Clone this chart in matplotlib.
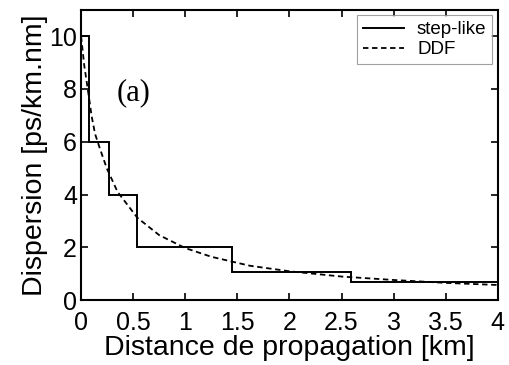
import matplotlib
matplotlib.use("Agg")
import matplotlib.pyplot as plt

# step-like dispersion profile (edges in km, values in ps/km.nm)
step_edges = [0, 0.08, 0.265, 0.54, 1.445, 2.59, 4.0]
step_values = [10, 6, 4, 2, 1.08, 0.68]

# DDF curve, points
ddf_x = [0, 0.03, 0.064, 0.1, 0.134, 0.18, 0.246, 0.35, 0.54, 0.75, 1.0, 1.25,
         1.62, 2.0, 2.5, 3.0, 3.5, 4.0]
ddf_y = [10, 8.9, 8.0, 7.0, 6.3, 5.75, 5.0, 4.1, 3.12, 2.46, 1.97, 1.64,
         1.30, 1.09, 0.89, 0.76, 0.65, 0.57]

xticks = [0, 0.5, 1, 1.5, 2, 2.5, 3, 3.5, 4]
xticklabels = ["0", "0.5", "1", "1.5", "2", "2.5", "3", "3.5", "4"]
yticks = [0, 2, 4, 6, 8, 10]

plt.rcParams['font.family'] = ['Liberation Sans', 'DejaVu Sans']

fig = plt.figure(figsize=(5.1, 3.65), dpi=100)
ax = fig.add_axes([0.159, 0.178, 0.817, 0.795])

ax.stairs(step_values, step_edges, color="black", lw=1.4, label="step-like", baseline=None)
ax.plot(ddf_x, ddf_y, color="black", lw=1.3, ls=(0, (3, 2)), label="DDF")

ax.set_xlim(0, 4)
ax.set_ylim(0, 11)
ax.set_xticks(xticks)
ax.set_xticklabels(xticklabels)
ax.set_yticks(yticks)
ax.tick_params(direction="in", top=True, right=True, length=5, width=1.2,
               labelsize=18)
ax.tick_params(axis="x", pad=8)
ax.tick_params(axis="y", pad=3)
for s in ax.spines.values():
    s.set_linewidth(1.5)

ax.set_xlabel("Distance de propagation [km]", fontsize=20.5, labelpad=0)
ax.set_ylabel("Dispersion [ps/km.nm]", fontsize=20.5, labelpad=1)

ax.text(0.50, 7.86, "(a)", fontsize=22, family="Liberation Serif",
        ha="center", va="center")

leg = ax.legend(loc="upper right", fontsize=13.5, frameon=True, fancybox=False,
                edgecolor="#888888", borderaxespad=0.3, handlelength=2.2,
                handletextpad=0.7, labelspacing=0.15, borderpad=0.3)
leg.get_frame().set_linewidth(0.8)

fig.savefig("out.png", dpi=100)
